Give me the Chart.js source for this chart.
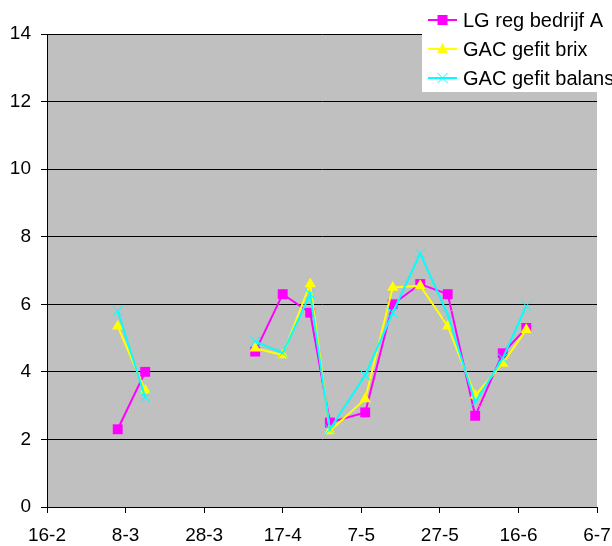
<!DOCTYPE html>
<html>
<head>
<meta charset="utf-8">
<script src="https://cdn.jsdelivr.net/npm/chart.js@4.4.1/dist/chart.umd.min.js"></script>
<style>
  html, body { margin: 0; padding: 0; background: #ffffff; }
  #wrap { width: 612px; height: 546px; position: relative; }
</style>
</head>
<body>
<div id="wrap"><canvas id="c" width="612" height="546"></canvas></div>
<script>
// ---- data ----
const tickLabels = ['16-2', '8-3', '28-3', '17-4', '7-5', '27-5', '16-6', '6-7'];
// days after 16-2 (null row breaks the lines)
const days = [18, 25, 39, 53, 60, 67, 72, 81, 88, 95, 102, 109, 116, 122];
const lgRegBedrijfA  = [2.3, 4.0, null, 4.6, 6.3, 5.75, 2.5, 2.8, 6.0, 6.6, 6.3, 2.7, 4.55, 5.3];
const gacGefitBrix   = [5.35, 3.45, null, 4.7, 4.5, 6.6, 2.25, 3.2, 6.5, 6.55, 5.35, 3.3, 4.25, 5.25];
const gacGefitBalans = [5.8, 3.25, null, 4.9, 4.55, 6.3, 2.3, 3.9, 5.75, 7.5, 5.7, 3.1, 4.4, 5.95];
const seriesNames = ['LG reg bedrijf A', 'GAC gefit brix', 'GAC gefit balans'];

const FONT = "'Liberation Sans', Arial, sans-serif";
const toPts = arr => days.map((d, i) => ({ x: d, y: arr[i] }));

const bgPlugin = {
  id: 'plotBg',
  beforeDraw(chart) {
    const { ctx, chartArea: a } = chart;
    ctx.save();
    ctx.fillStyle = '#c0c0c0';
    ctx.fillRect(a.left, a.top, a.right - a.left, a.bottom - a.top);
    ctx.restore();
  }
};

function drawMarker(ctx, style, x, y, color) {
  ctx.save();
  ctx.fillStyle = color;
  ctx.strokeStyle = color;
  if (style === 'rect') {
    ctx.fillRect(x - 5, y - 5, 10, 10);
  } else if (style === 'triangle') {
    ctx.beginPath();
    ctx.moveTo(x, y - 6);
    ctx.lineTo(x + 5.5, y + 4);
    ctx.lineTo(x - 5.5, y + 4);
    ctx.closePath();
    ctx.fill();
  } else {
    ctx.lineWidth = 1;
    ctx.beginPath();
    ctx.moveTo(x - 5, y - 5); ctx.lineTo(x + 5, y + 5);
    ctx.moveTo(x + 5, y - 5); ctx.lineTo(x - 5, y + 5);
    ctx.stroke();
  }
  ctx.restore();
}

const legendPlugin = {
  id: 'customLegend',
  afterDraw(chart) {
    const ctx = chart.ctx;
    ctx.save();
    ctx.fillStyle = '#ffffff';
    ctx.fillRect(422, 0, 190, 92);
    const rows = [20, 49, 78];
    chart.data.datasets.forEach((ds, i) => {
      const y = rows[i];
      ctx.strokeStyle = ds.borderColor;
      ctx.lineWidth = 2;
      ctx.beginPath();
      ctx.moveTo(428, y);
      ctx.lineTo(457, y);
      ctx.stroke();
      drawMarker(ctx, ds.pointStyle, 442.5, y, ds.borderColor);
      ctx.fillStyle = '#000';
      ctx.font = '20px ' + FONT;
      ctx.textBaseline = 'middle';
      ctx.textAlign = 'left';
      ctx.fillText(ds.label, 463, y + 1);
    });
    ctx.restore();
  }
};

new Chart(document.getElementById('c'), {
  type: 'line',
  data: {
    datasets: [
      { label: seriesNames[0], data: toPts(lgRegBedrijfA), borderColor: '#ff00ff', backgroundColor: '#ff00ff',
        pointStyle: 'rect', pointRadius: 7, pointBorderWidth: 0, borderWidth: 2, order: 3 },
      { label: seriesNames[1], data: toPts(gacGefitBrix), borderColor: '#ffff00', backgroundColor: '#ffff00',
        pointStyle: 'triangle', pointRadius: 6.5, pointBorderWidth: 0, borderWidth: 2, order: 2 },
      { label: seriesNames[2], data: toPts(gacGefitBalans), borderColor: '#00ffff', backgroundColor: '#00ffff',
        pointStyle: 'crossRot', pointRadius: 7, pointBorderWidth: 1, borderWidth: 2, order: 1 }
    ]
  },
  options: {
    responsive: false,
    animation: false,
    spanGaps: false,
    elements: { line: { tension: 0 } },
    layout: { padding: { left: 0, right: 15, top: 34, bottom: 0 } },
    plugins: { legend: { display: false }, tooltip: { enabled: false } },
    scales: {
      x: {
        type: 'linear', min: 0, max: 140,
        afterFit(s) { s.height = 39; s.paddingLeft = 0; s.paddingRight = 0; },
        ticks: {
          stepSize: 20, autoSkip: false, maxRotation: 0, padding: 11, color: '#000',
          font: { family: FONT, size: 19 },
          callback: v => tickLabels[Math.round(v / 20)]
        },
        grid: { drawOnChartArea: false, color: '#000', tickColor: '#000', tickLength: 6 },
        border: { display: true, color: '#000', width: 1 }
      },
      y: {
        min: 0, max: 14,
        afterFit(s) { s.width = 47; s.paddingTop = 0; s.paddingBottom = 0; },
        ticks: { stepSize: 2, padding: 10, color: '#000', font: { family: FONT, size: 19 } },
        grid: { color: '#000', tickColor: '#000', tickLength: 6, lineWidth: 1 },
        border: { display: true, color: '#000', width: 1 }
      }
    }
  },
  plugins: [bgPlugin, legendPlugin]
});
</script>
</body>
</html>
